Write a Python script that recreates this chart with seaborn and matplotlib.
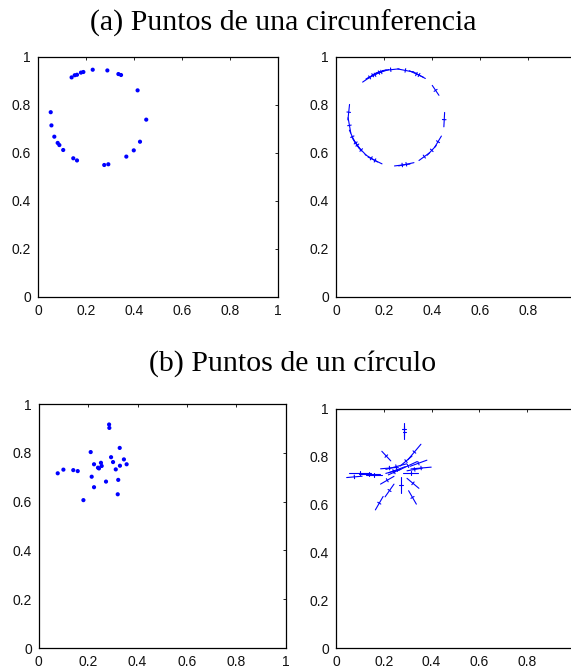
import numpy as np
import pandas as pd
import matplotlib
matplotlib.use("Agg")
import matplotlib.pyplot as plt
import seaborn as sns

# ---------------- data ----------------
title_a = "(a) Puntos de una circunferencia"
title_b = "(b) Puntos de un círculo"
tick_vals = [0, 0.2, 0.4, 0.6, 0.8, 1]
tick_labels = ["0", "0.2", "0.4", "0.6", "0.8", "1"]
tick_labels_clipped = ["0", "0.2", "0.4", "0.6", "0.8", ""]

circ_x = [0.140, 0.153, 0.1625, 0.179, 0.189, 0.228, 0.289, 0.335, 0.346, 0.415,
          0.451, 0.425, 0.399, 0.368, 0.293, 0.276, 0.1625, 0.147, 0.105, 0.089,
          0.082, 0.068, 0.056, 0.053]
circ_y = [0.915, 0.924, 0.926, 0.935, 0.9375, 0.947, 0.944, 0.929, 0.925, 0.861,
          0.739, 0.647, 0.611, 0.585, 0.553, 0.550, 0.569, 0.578, 0.6125, 0.633,
          0.642, 0.668, 0.715, 0.770]
# orientation (deg) and lengths of the principal directions (right panel)
circ_ang = [34, 29, 26, 21, 18, 6, -11, -25, -29, -56,
            87, 59, 47, 36, 12, 7, -26, -31, -46, -54,
            -57, -66, -80, 84]
circ_major = [0.07, 0.065, 0.065, 0.065, 0.065, 0.07, 0.065, 0.065, 0.06, 0.05,
              0.06, 0.055, 0.055, 0.055, 0.065, 0.065, 0.065, 0.06, 0.06, 0.06,
              0.06, 0.06, 0.065, 0.065]
circ_minor = [0.015] * 24

disk_x = [0.285, 0.286, 0.328, 0.2105, 0.293, 0.345, 0.301, 0.252, 0.224, 0.356,
          0.329, 0.255, 0.240, 0.244, 0.312, 0.100, 0.140, 0.158, 0.077, 0.2145,
          0.322, 0.2725, 0.224, 0.320, 0.181]
disk_y = [0.916, 0.902, 0.820, 0.803, 0.782, 0.773, 0.762, 0.759, 0.753, 0.753,
          0.747, 0.746, 0.739, 0.736, 0.732, 0.731, 0.729, 0.725, 0.716, 0.702,
          0.689, 0.682, 0.659, 0.630, 0.606]
disk_ang = [90, 90, 50, -47, 40, 20, 25, 15, 5, 5,
            10, 20, 15, 25, 0, 0, 0, 0, 5, 30,
            -40, 90, 55, -60, 60]
disk_major = [0.055, 0.055, 0.085, 0.055, 0.065, 0.075, 0.085, 0.09, 0.075, 0.085,
              0.065, 0.075, 0.065, 0.055, 0.065, 0.09, 0.09, 0.065, 0.065, 0.065,
              0.065, 0.065, 0.065, 0.065, 0.065]
disk_minor = [0.015] * 25

BLUE = (0, 0, 1)


def segments(xs, ys, angs, majors, minors):
    rows = []
    for i, (x, y, a, L, l) in enumerate(zip(xs, ys, angs, majors, minors)):
        t = np.deg2rad(a)
        c, s = np.cos(t), np.sin(t)
        for k, (dx, dy, h) in enumerate([(c, s, L / 2), (-s, c, l / 2)]):
            sid = 2 * i + k
            rows.append((sid, x - h * dx, y - h * dy))
            rows.append((sid, x + h * dx, y + h * dy))
    return pd.DataFrame(rows, columns=["seg", "x", "y"])


sns.set_theme(style="white")
plt.rcParams["font.family"] = ["Liberation Sans", "DejaVu Sans"]

W, H = 571, 668
fig = plt.figure(figsize=(W / 100, H / 100), dpi=100)


def make_ax(l, t, w, h, xlabels):
    ax = fig.add_axes([l / W, 1 - (t + h) / H, w / W, h / H])
    ax.set_xlim(0, 1)
    ax.set_ylim(0, 1)
    ax.set_xticks(tick_vals)
    ax.set_xticklabels(xlabels)
    ax.set_yticks(tick_vals)
    ax.set_yticklabels(tick_labels)
    ax.tick_params(direction="in", length=2.5, width=0.6, top=True, right=True,
                   labelsize=10, pad=5, colors="black", labelcolor="#111111")
    for sp in ax.spines.values():
        sp.set_color("black")
        sp.set_linewidth(0.9)
        sp.set_visible(True)
    ax.set_facecolor("white")
    return ax


ax1 = make_ax(38, 57, 240, 240, tick_labels)
ax2 = make_ax(336, 57, 240, 240, tick_labels_clipped)
ax3 = make_ax(38.7, 404, 247, 244, tick_labels)
ax4 = make_ax(336, 409, 239, 239, tick_labels_clipped)

sns.scatterplot(x=circ_x, y=circ_y, ax=ax1, color=BLUE, s=9, edgecolor="none", legend=False)
sns.scatterplot(x=disk_x, y=disk_y, ax=ax3, color=BLUE, s=9, edgecolor="none", legend=False)

d2 = segments(circ_x, circ_y, circ_ang, circ_major, circ_minor)
sns.lineplot(data=d2, x="x", y="y", units="seg", estimator=None, sort=False,
             ax=ax2, color=BLUE, lw=0.8, legend=False)
d4 = segments(disk_x, disk_y, disk_ang, disk_major, disk_minor)
sns.lineplot(data=d4, x="x", y="y", units="seg", estimator=None, sort=False,
             ax=ax4, color=BLUE, lw=0.8, legend=False)

for ax in (ax1, ax2, ax3, ax4):
    ax.set_xlim(0, 1)
    ax.set_ylim(0, 1)
    ax.set_xlabel("")
    ax.set_ylabel("")

fig.text(283 / W, 1 - 23 / H, title_a, ha="center", va="center", color="black",
         fontsize=21.5, family=["Liberation Serif", "DejaVu Serif"])
fig.text(293 / W, 1 - 364 / H, title_b, ha="center", va="center", color="black",
         fontsize=21.5, family=["Liberation Serif", "DejaVu Serif"])

fig.savefig("out.png", dpi=100, facecolor="white")
